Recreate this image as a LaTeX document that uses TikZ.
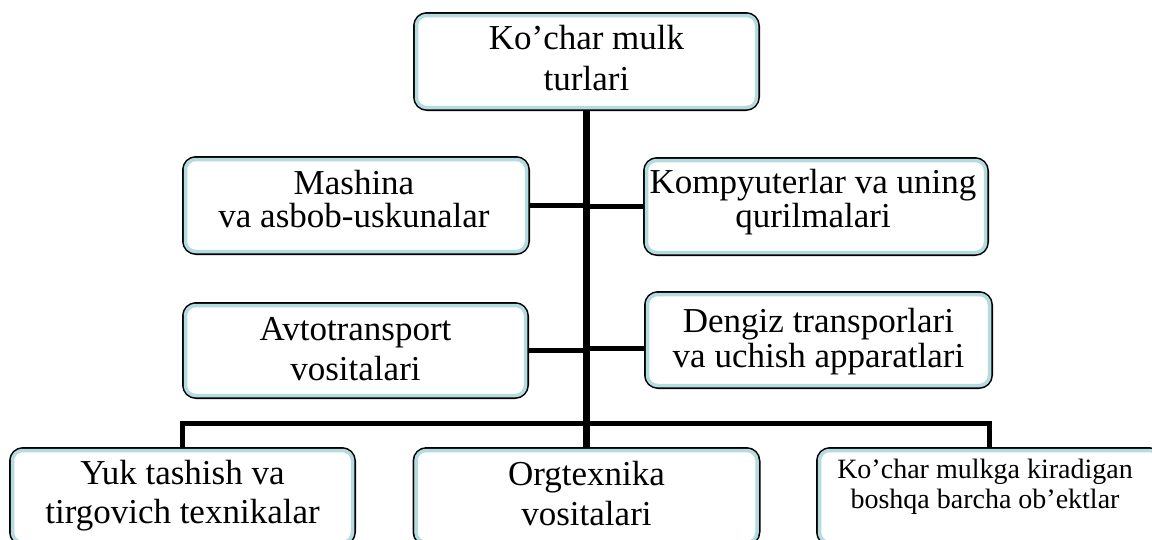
\documentclass[tikz,border=0pt]{standalone}
\usepackage{fontspec}
\setmainfont{Liberation Serif}
\definecolor{bandblue}{HTML}{B4DCE0}
\tikzset{
  box/.style={draw=black, line width=2pt, rounded corners=13pt, inner sep=0pt, minimum height=97pt},
  band/.style={draw=bandblue, line width=3.5pt, rounded corners=10pt},
  txt/.style={align=center, inner sep=0pt, anchor=base},
  conn/.style={line width=5pt, line cap=butt},
  trunk/.style={line width=6.5pt}
}
\begin{document}
\begin{tikzpicture}[x=1pt,y=-1pt]
\clip (0,0) rectangle (1152,539);
\fill[white] (0,0) rectangle (1152,539);
% boxes
\node[box, minimum width=345pt] (top) at (586.5,61.5) {};
\node[box, minimum width=346pt] (mash) at (356,205.5) {};
\node[box, minimum width=344pt] (komp) at (816,206.5) {};
\node[box, minimum width=345pt, minimum height=95pt] (avto) at (355.5,350.5) {};
\node[box, minimum width=347pt, minimum height=96pt] (deng) at (818.5,340) {};
\node[box, minimum width=345pt] (yuk) at (182.5,496.5) {};
\node[box, minimum width=346pt] (org) at (586.5,496.5) {};
\node[box, minimum width=345pt] (other) at (989.5,496.5) {};
\foreach \n in {top,mash,komp,avto,deng,yuk,org,other}{
  \draw[band] ([shift={(3.5,3.5)}]\n.north west) rectangle ([shift={(-3.5,-3.5)}]\n.south east);
}
% texts
\node[txt, font={\fontsize{35}{41}\selectfont}] (topT) at (586.5,90.5) {Ko’char mulk\\turlari};
\node[txt, font={\fontsize{35}{33}\selectfont}] (mashT) at (354,227) {Mashina\\va asbob-uskunalar};
\node[txt, font={\fontsize{35}{34}\selectfont}] (kompT) at (813,227) {Kompyuterlar va uning\\qurilmalari};
\node[txt, font={\fontsize{35}{40}\selectfont}] (avtoT) at (355.5,380) {Avtotransport\\vositalari};
\node[txt, font={\fontsize{35}{35}\selectfont}] (dengT) at (818.5,367) {Dengiz transporlari\\va uchish apparatlari};
\node[txt, font={\fontsize{35}{39}\selectfont}] (yukT) at (182.5,523) {Yuk tashish va\\tirgovich texnikalar};
\node[txt, font={\fontsize{35}{40}\selectfont}] (orgT) at (586.5,525) {Orgtexnika\\vositalari};
\node[txt, font={\fontsize{28}{30}\selectfont}] (otherT) at (985,508) {Ko’char mulkga kiradigan\\boshqa barcha ob’ektlar};
% connectors
\coordinate (bus) at (586.5,423);
\draw[trunk] (top.south) -- (org.north);
\draw[conn] (mash.east) -- (mash.east -| top.south);
\draw[conn] (komp.west) -- (komp.west -| top.south);
\draw[conn] (avto.east) -- (avto.east -| top.south);
\coordinate (dengc) at (deng.west |- 0,348);
\draw[conn] (dengc) -- (dengc -| top.south);
\draw[conn] (yuk.north) |- (bus) -| (other.north);
\end{tikzpicture}
\end{document}
